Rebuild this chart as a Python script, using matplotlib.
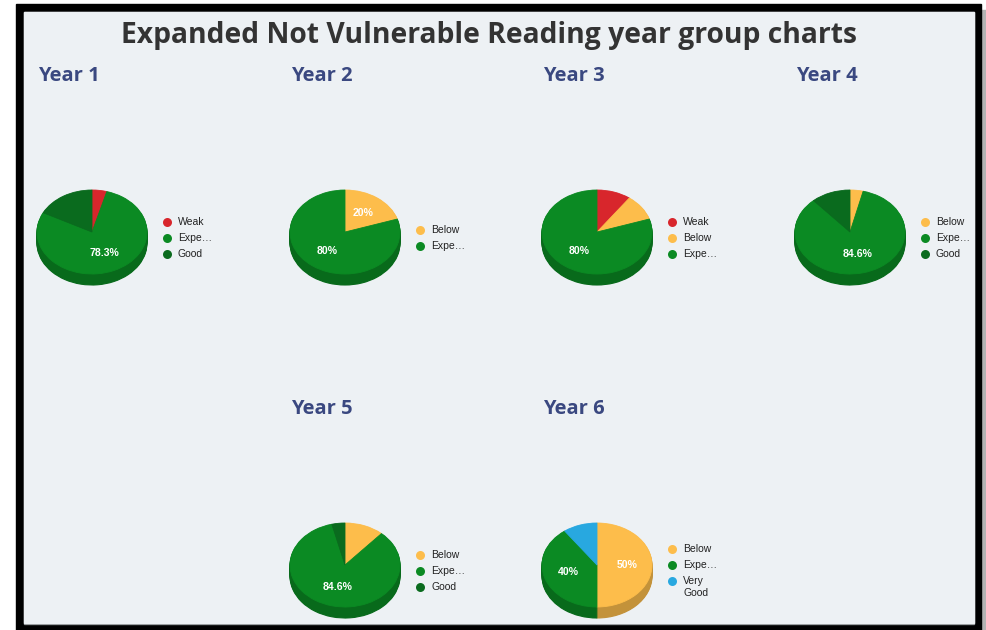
import matplotlib.pyplot as plt
from matplotlib.patches import Rectangle
from matplotlib.colors import to_rgb

W, H = 987, 630

title = "Expanded Not Vulnerable Reading year group charts"
years = ["Year 1", "Year 2", "Year 3", "Year 4", "Year 5", "Year 6"]

# categories and pupil counts for each year group
year1_labels = ["Weak", "Expe…", "Good"]
year1_counts = [1, 18, 4]
year2_labels = ["Below", "Expe…"]
year2_counts = [1, 4]
year3_labels = ["Weak", "Below", "Expe…"]
year3_counts = [1, 1, 8]
year4_labels = ["Below", "Expe…", "Good"]
year4_counts = [1, 22, 3]
year5_labels = ["Below", "Expe…", "Good"]
year5_counts = [3, 22, 1]
year6_labels = ["Below", "Expe…", "Very\nGood"]
year6_counts = [5, 4, 1]

all_labels = [year1_labels, year2_labels, year3_labels, year4_labels, year5_labels, year6_labels]
all_counts = [year1_counts, year2_counts, year3_counts, year4_counts, year5_counts, year6_counts]

colors = {"Weak": "#d8262c", "Below": "#fdbd4b", "Expe…": "#0b8a23",
          "Good": "#0a6b1e", "Very\nGood": "#28a8e0"}

# grid layout (column, row) of each year in the dashboard
grid = [(0, 0), (1, 0), (2, 0), (3, 0), (1, 1), (2, 1)]
col_x = [92, 345, 597, 850]
row_y = [232, 565]
rx, ry, depth = 55, 42, 11


def darker(c, f=0.77):
    r, g, b = to_rgb(c)
    return (r * f, g * f, b * f)


def fmt_pct(p):
    if p < 19.5:
        return ""
    return f"{p:.1f}".rstrip("0").rstrip(".") + "%"


fig = plt.figure(figsize=(W / 100, H / 100), dpi=100, facecolor="white")
bg = fig.add_axes([0, 0, 1, 1])
bg.set_xlim(0, W)
bg.set_ylim(H, 0)
bg.axis("off")

# frame like the screenshot
bg.add_patch(Rectangle((981, 10), 6, 620, color="#b3b3b3"))
bg.add_patch(Rectangle((16, 4), 965, 626, color="black"))
bg.add_patch(Rectangle((24, 12), 950, 612, color="#888c8e"))
bg.add_patch(Rectangle((24, 12), 950, 610.5, color="#edf1f4"))

bg.text(489, 35, title, ha="center", va="center", fontsize=20.3,
        fontweight="bold", family="Open Sans", color="#333333")

for year, labels, counts, (c, r) in zip(years, all_labels, all_counts, grid):
    cx, cy = col_x[c], row_y[r]
    bg.text(cx - 54, cy - 156, year, ha="left", va="center", fontsize=14.5,
            fontweight="bold", family="Open Sans", color="#3a4880")

    ax = fig.add_axes([(cx - rx) / W, 1 - (cy + ry + depth) / H,
                       2 * rx / W, (2 * ry + depth) / H])
    top_cols = [colors[l] for l in labels]
    side_cols = [darker(col) for col in top_cols]
    # stacked darker copies give the 3D side
    for k in range(depth, 0, -1):
        wedges, _ = ax.pie(counts, colors=side_cols, startangle=90, counterclock=False,
                           center=(0, -k / ry), wedgeprops=dict(linewidth=0.8))
        for w in wedges:
            w.set_edgecolor(w.get_facecolor())
    wedges, _, autotexts = ax.pie(counts, colors=top_cols, startangle=90, counterclock=False,
                                  autopct=fmt_pct, pctdistance=0.55,
                                  wedgeprops=dict(linewidth=0.6),
                                  textprops=dict(color="white", fontsize=7.6, fontweight="bold",
                                                 family="Liberation Sans"))
    for w in wedges:
        w.set_edgecolor(w.get_facecolor())
    ax.set_xlim(-1, 1)
    ax.set_ylim(-1 - depth / ry, 1)
    ax.set_aspect("auto")
    ax.axis("off")

    # legend, wrapped names continue on the next line
    extra = sum(l.count("\n") for l in labels)
    total = (len(labels) - 1) * 16 + extra * 13
    y = cy + 6 - total / 2
    for l in labels:
        bg.scatter(cx + 75, y, s=42, color=colors[l], linewidths=0)
        for i, part in enumerate(l.split("\n")):
            bg.text(cx + 86, y + i * 13, part, ha="left", va="center",
                    fontsize=7.5, family="Liberation Sans", color="#222222")
        y += 16 + l.count("\n") * 13

fig.savefig("out.png", dpi=100, facecolor="white")
